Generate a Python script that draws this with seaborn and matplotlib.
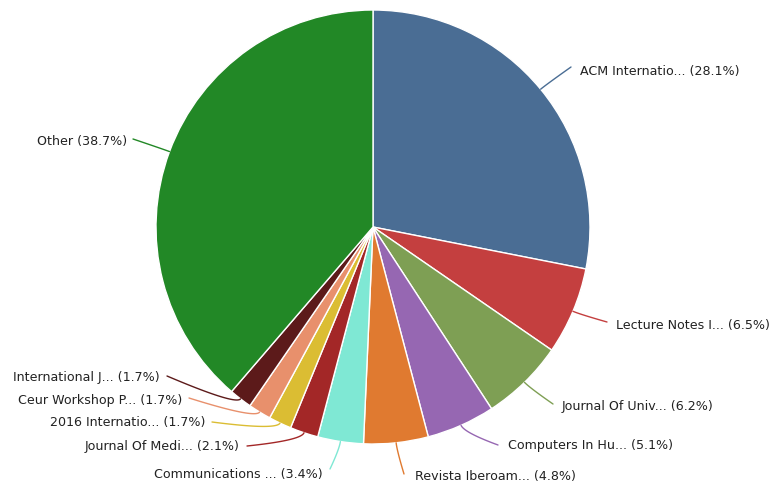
import numpy as np
import matplotlib
matplotlib.use("Agg")
import matplotlib.pyplot as plt
import seaborn as sns

labels = ["ACM Internatio...", "Lecture Notes I...", "Journal Of Univ...",
          "Computers In Hu...", "Revista Iberoam...", "Communications ...",
          "Journal Of Medi...", "2016 Internatio...", "Ceur Workshop P...",
          "International J...", "Other"]
values = [28.1, 6.5, 6.2, 5.1, 4.8, 3.4, 2.1, 1.7, 1.7, 1.7, 38.7]
colors = ["#4a6d94", "#c43f3f", "#7e9f54", "#9667b2", "#e07a30", "#7fe8d4",
          "#a32727", "#dbbd33", "#e8906c", "#5c1a1a", "#228826"]

# label anchor positions (pixels, top-left origin) and alignment
label_pos = [(580, 71, "left"), (616, 325, "left"), (562, 407, "left"),
             (508, 446, "left"), (415, 477, "left"), (323, 475, "right"),
             (239, 447, "right"), (205, 423, "right"), (182, 401, "right"),
             (160, 378, "right"), (127, 141, "right")]
# connector end points near the labels (pixels)
conn_end = [(571, 68), (607, 323), (553, 405), (498, 446), (404, 475),
            (330, 470), (247, 447), (212, 423), (189, 399), (167, 377),
            (133, 140)]

sns.set_theme(style="white")
plt.rcParams['font.family'] = ['DejaVu Sans']

W, H = 773, 485
fig = plt.figure(figsize=(W / 100, H / 100), dpi=100)
ax = fig.add_axes([0, 0, 1, 1])
cx, cy, r = 373, H - 228, 217

wedges, _ = ax.pie(values, colors=colors, startangle=90, counterclock=False,
                   center=(cx, cy), radius=r,
                   wedgeprops=dict(edgecolor="white", linewidth=1.0))

t = np.linspace(0, 1, 30)
for w, lab, v, (lx, ly, ha), (qx, qy), c in zip(wedges, labels, values,
                                                 label_pos, conn_end, colors):
    mid = np.deg2rad((w.theta1 + w.theta2) / 2)
    ex, ey = cx + r * np.cos(mid), cy + r * np.sin(mid)
    bx, by = cx + (r + 8) * np.cos(mid), cy + (r + 8) * np.sin(mid)
    qy2 = H - qy
    xs = (1 - t) ** 2 * ex + 2 * (1 - t) * t * bx + t ** 2 * qx
    ys = (1 - t) ** 2 * ey + 2 * (1 - t) * t * by + t ** 2 * qy2
    ax.plot(xs, ys, color=c, lw=1.0, solid_capstyle="round")
    ax.text(lx, H - ly, f"{lab} ({v}%)", ha=ha, va="center", fontsize=9.1,
            color="#222222")

ax.set_xlim(0, W)
ax.set_ylim(0, H)
ax.set_aspect("equal")
ax.axis("off")
fig.savefig("out.png", dpi=100)
